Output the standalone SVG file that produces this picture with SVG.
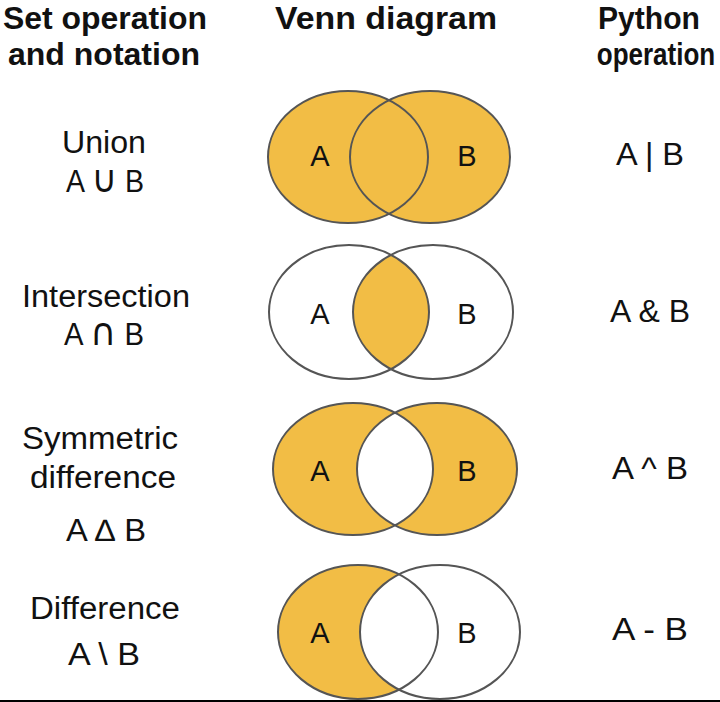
<svg xmlns="http://www.w3.org/2000/svg" width="720" height="702" viewBox="0 0 720 702">
<style>
.h{font-family:"Liberation Sans",Arial,sans-serif;font-weight:bold;font-size:31px;fill:#111;text-anchor:middle}
.t{font-family:"Liberation Sans",Arial,sans-serif;font-size:31px;fill:#111;text-anchor:middle}
.v{font-family:"Liberation Sans",Arial,sans-serif;font-size:29px;fill:#111;text-anchor:middle}
.s{font-family:"DejaVu Sans",sans-serif;font-size:38px}
.o{fill:none;stroke:#555;stroke-width:2}
.y{fill:#F2BD45}
.w{fill:#fff}
</style>
<defs>
<clipPath id="c2"><ellipse cx="433" cy="312" rx="80" ry="67"/></clipPath>
<clipPath id="c3"><ellipse cx="437" cy="469" rx="80" ry="66"/></clipPath>
</defs>
<rect width="720" height="702" fill="#fff"/>
<g id="header">
<text class="h" x="105" y="29" textLength="204" lengthAdjust="spacingAndGlyphs">Set operation</text>
<text class="h" x="104" y="65" textLength="192" lengthAdjust="spacingAndGlyphs">and notation</text>
<text class="h" x="386" y="29" textLength="222" lengthAdjust="spacingAndGlyphs">Venn diagram</text>
<text class="h" x="649" y="29" textLength="102" lengthAdjust="spacingAndGlyphs">Python</text>
<text class="h" x="0" y="0" style="font-size:26px" transform="translate(656,65) scale(1,1.19)">operation</text>
</g>
<g id="union">
<text class="t" x="104" y="153" textLength="84" lengthAdjust="spacingAndGlyphs">Union</text>
<text class="t" x="105" y="192" textLength="78" lengthAdjust="spacingAndGlyphs">A <tspan class="s">∪</tspan> B</text>
<ellipse class="y" cx="348" cy="157" rx="80" ry="66"/>
<ellipse class="y" cx="430" cy="157" rx="80" ry="66"/>
<ellipse class="o" cx="348" cy="157" rx="80" ry="66"/>
<ellipse class="o" cx="430" cy="157" rx="80" ry="66"/>
<text class="v" x="320" y="166">A</text>
<text class="v" x="467" y="166">B</text>
<text class="t" x="650" y="165" textLength="68" lengthAdjust="spacingAndGlyphs">A | B</text>
</g>
<g id="intersection">
<text class="t" x="106" y="307" textLength="168" lengthAdjust="spacingAndGlyphs">Intersection</text>
<text class="t" x="104" y="345" textLength="80" lengthAdjust="spacingAndGlyphs">A <tspan class="s">∩</tspan> B</text>
<ellipse class="w" cx="349" cy="312" rx="80" ry="67"/>
<ellipse class="w" cx="433" cy="312" rx="80" ry="67"/>
<ellipse class="y" cx="349" cy="312" rx="80" ry="67" clip-path="url(#c2)"/>
<ellipse class="o" cx="349" cy="312" rx="80" ry="67"/>
<ellipse class="o" cx="433" cy="312" rx="80" ry="67"/>
<text class="v" x="320" y="324">A</text>
<text class="v" x="467" y="324">B</text>
<text class="t" x="650" y="322" textLength="80" lengthAdjust="spacingAndGlyphs">A &amp; B</text>
</g>
<g id="symmetric-difference">
<text class="t" x="100" y="449" textLength="156" lengthAdjust="spacingAndGlyphs">Symmetric</text>
<text class="t" x="103" y="488" textLength="146" lengthAdjust="spacingAndGlyphs">difference</text>
<text class="t" x="106" y="541" textLength="80" lengthAdjust="spacingAndGlyphs">A ∆ B</text>
<ellipse class="y" cx="353" cy="469" rx="80" ry="66"/>
<ellipse class="y" cx="437" cy="469" rx="80" ry="66"/>
<ellipse class="w" cx="353" cy="469" rx="80" ry="66" clip-path="url(#c3)"/>
<ellipse class="o" cx="353" cy="469" rx="80" ry="66"/>
<ellipse class="o" cx="437" cy="469" rx="80" ry="66"/>
<text class="v" x="320" y="481">A</text>
<text class="v" x="467" y="481">B</text>
<text class="t" x="650" y="479" textLength="76" lengthAdjust="spacingAndGlyphs">A ^ B</text>
</g>
<g id="difference">
<text class="t" x="105" y="619" textLength="150" lengthAdjust="spacingAndGlyphs">Difference</text>
<text class="t" x="104" y="665" textLength="72" lengthAdjust="spacingAndGlyphs">A \ B</text>
<ellipse class="y" cx="358" cy="632" rx="80" ry="67"/>
<ellipse class="w" cx="440" cy="632" rx="80" ry="67"/>
<ellipse class="o" cx="358" cy="632" rx="80" ry="67"/>
<ellipse class="o" cx="440" cy="632" rx="80" ry="67"/>
<text class="v" x="320" y="643">A</text>
<text class="v" x="467" y="643">B</text>
<text class="t" x="650" y="640" textLength="76" lengthAdjust="spacingAndGlyphs">A - B</text>
</g>
<rect id="baseline" x="0" y="700" width="720" height="2" fill="#000"/>
</svg>
